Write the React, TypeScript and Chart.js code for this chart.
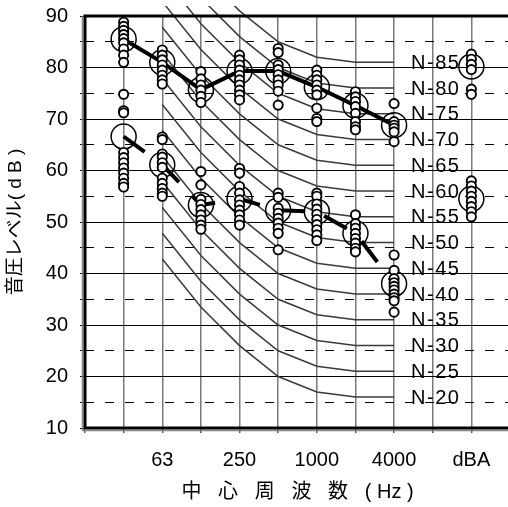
import React, { useEffect, useRef } from 'react';
import { Chart, registerables } from 'chart.js';

Chart.register(...registerables);

// x slots (category axis); blank slots carry no label
const categories = ['', '31.5', '63', '125', '250', '500', '1000', '2000', '4000', ' ', 'dBA', '  '];
const shownTickLabels = ['63', '250', '1000', '4000', 'dBA'];

// y axis
const yMin = 10;
const yMax = 90;
const yStep = 5;

// mean values (big circles + thick lines)
const upperMeans = [null, 85.5, 81.0, 75.7, 79.3, 79.3, 76.2, 72.6, 68.8, null, 80.2, null];
const lowerMeans = [null, 66.6, 61.1, 53.3, 54.5, 52.3, 52.0, 47.8, 38.0, null, 54.5, null];

// individual measurements (small circles)
const pts31 = [88.8, 88.0, 87.2, 86.4, 85.6, 84.8, 83.6, 82.4, 81.0, 74.8, 71.6, 71.2, 63.5, 62.5, 61.5, 60.5, 59.5, 58.5, 57.5, 56.8];
const pts63 = [83.4, 82.4, 81.5, 80.5, 79.5, 78.5, 77.6, 76.8, 66.5, 66.0, 63.2, 62.6, 61.5, 60.6, 58.5, 57.5, 56.5, 55.6, 55.0];
const pts125 = [79.2, 77.8, 76.6, 75.6, 74.4, 73.2, 59.8, 57.2, 54.4, 53.4, 52.4, 51.4, 50.4, 49.4, 48.6];
const pts250 = [82.4, 81.5, 80.5, 79.5, 78.5, 77.6, 76.6, 75.6, 74.7, 73.7, 60.4, 59.5, 56.9, 55.6, 54.3, 53.3, 52.3, 51.4, 50.4, 49.4];
const pts500 = [83.7, 82.9, 80.5, 79.6, 78.6, 77.6, 76.6, 75.4, 72.7, 55.6, 54.8, 52.7, 51.7, 50.7, 49.8, 48.8, 47.8, 44.6];
const pts1000 = [79.5, 78.5, 77.6, 76.6, 75.6, 74.7, 72.1, 70.1, 69.5, 55.6, 55.0, 53.5, 52.5, 51.5, 50.5, 49.5, 48.5, 47.5, 46.4];
const pts2000 = [75.3, 74.3, 73.4, 72.4, 71.1, 69.5, 68.5, 67.9, 51.4, 49.7, 48.8, 47.8, 46.8, 45.9, 44.9, 44.2];
const pts4000 = [73.0, 69.5, 68.8, 68.2, 67.5, 65.6, 43.6, 40.6, 39.0, 38.2, 37.5, 36.8, 36.0, 35.3, 34.7, 32.5];
const ptsDBA = [82.6, 81.6, 80.6, 79.6, 75.8, 74.8, 58.0, 57.0, 56.0, 55.0, 54.0, 53.0, 52.0, 51.0];

// N curves, values at 63, 125, 250, 500, 1000, 2000, 4000 Hz
const nCurveBands = ['63', '125', '250', '500', '1000', '2000', '4000'];
const N20 = [42.8, 33.5, 26, 20, 17, 16, 16];
const N25 = [47.8, 38.5, 31, 25, 22, 21, 21];
const N30 = [52.8, 43.5, 36, 30, 27, 26, 26];
const N35 = [57.8, 48.5, 41, 35, 32, 31, 31];
const N40 = [62.8, 53.5, 46, 40, 37, 36, 36];
const N45 = [67.8, 58.5, 51, 45, 42, 41, 41];
const N50 = [72.8, 63.5, 56, 50, 47, 46, 46];
const N55 = [77.8, 68.5, 61, 55, 52, 51, 51];
const N60 = [82.8, 73.5, 66, 60, 57, 56, 56];
const N65 = [87.8, 78.5, 71, 65, 62, 61, 61];
const N70 = [92.8, 83.5, 76, 70, 67, 66, 66];
const N75 = [97.8, 88.5, 81, 75, 72, 71, 71];
const N80 = [102.8, 93.5, 86, 80, 77, 76, 76];
const N85 = [107.8, 98.5, 91, 85, 82, 81, 81];
const nCurveNames = ['N-20', 'N-25', 'N-30', 'N-35', 'N-40', 'N-45', 'N-50', 'N-55', 'N-60', 'N-65', 'N-70', 'N-75', 'N-80', 'N-85'];
const nCurveValues = [N20, N25, N30, N35, N40, N45, N50, N55, N60, N65, N70, N75, N80, N85];

const pointTable: [string, number[]][] = [
  ['31.5', pts31], ['63', pts63], ['125', pts125], ['250', pts250], ['500', pts500],
  ['1000', pts1000], ['2000', pts2000], ['4000', pts4000], ['dBA', ptsDBA],
];

const FONT = "'Liberation Sans', Arial, 'Noto Sans CJK JP', sans-serif";

const zeroPadding = (s: any) => {
  s.paddingLeft = 0;
  s.paddingRight = 0;
  s.paddingTop = 0;
  s.paddingBottom = 0;
};

const framePlugin = {
  id: 'frameAndLabels',
  beforeDatasetsDraw(chart: any) {
    const { ctx, scales } = chart;
    const x = scales.x;
    const y = scales.y;
    ctx.save();
    ctx.font = `20px ${FONT}`;
    ctx.fillStyle = '#000';
    ctx.textAlign = 'left';
    ctx.textBaseline = 'middle';
    try { (ctx as any).letterSpacing = '1.5px'; } catch (e) {}
    const lastBand = nCurveBands[nCurveBands.length - 1];
    const lx = x.getPixelForValue(categories.indexOf(lastBand)) + 17;
    nCurveNames.forEach((name, i) => {
      const vals = nCurveValues[i];
      ctx.fillText(name, lx, y.getPixelForValue(vals[vals.length - 1]) + 1);
    });
    ctx.restore();
  },
  afterDraw(chart: any) {
    const { ctx, chartArea } = chart;
    const { left, top, right, bottom } = chartArea;
    ctx.save();
    ctx.strokeStyle = '#888';
    ctx.lineWidth = 1.5;
    ctx.beginPath();
    ctx.moveTo(left - 2.5, top);
    ctx.lineTo(left - 2.5, bottom + 2.5);
    ctx.lineTo(right, bottom + 2.5);
    ctx.stroke();
    ctx.strokeStyle = '#000';
    ctx.lineWidth = 3;
    ctx.beginPath();
    ctx.moveTo(right, top);
    ctx.lineTo(left, top);
    ctx.lineTo(left, bottom);
    ctx.lineTo(right, bottom);
    ctx.stroke();
    ctx.restore();
  },
};

export default function App() {
  const ref = useRef<HTMLCanvasElement>(null);
  useEffect(() => {
    const canvas = ref.current;
    if (!canvas) return;

    const scatterData: { x: string; y: number }[] = [];
    pointTable.forEach(([cat, vals]) => vals.forEach((v) => scatterData.push({ x: cat, y: v })));

    const nDatasets = nCurveValues.map((vals, i) => ({
      type: 'line' as const,
      label: nCurveNames[i],
      data: vals.map((v, j) => ({ x: nCurveBands[j], y: v })),
      borderColor: '#3a3a3a',
      borderWidth: 1.5,
      pointRadius: 0,
      tension: 0,
      order: 3,
      clip: { left: 0, top: 10, right: 0, bottom: 0 },
    }));

    const chart = new Chart(canvas, {
      type: 'line',
      data: {
        labels: categories,
        datasets: [
          {
            label: 'points',
            data: scatterData as any,
            showLine: false,
            pointRadius: 4.6,
            pointBorderWidth: 1.9,
            pointBackgroundColor: '#fff',
            pointBorderColor: '#000',
            order: 0,
          },
          {
            label: 'upper',
            data: upperMeans as any,
            borderColor: '#000',
            borderWidth: 4,
            pointRadius: 12.5,
            pointBorderWidth: 1.5,
            pointBackgroundColor: 'rgba(0,0,0,0)',
            pointBorderColor: '#000',
            spanGaps: false,
            tension: 0,
            order: 1,
          },
          {
            label: 'lower',
            data: lowerMeans as any,
            borderColor: '#000',
            borderWidth: 4,
            borderDash: [26, 20],
            pointRadius: 12.5,
            pointBorderWidth: 1.5,
            pointBackgroundColor: 'rgba(0,0,0,0)',
            pointBorderColor: '#000',
            spanGaps: false,
            tension: 0,
            order: 1,
          },
          ...nDatasets,
        ] as any,
      },
      options: {
        responsive: false,
        animation: false,
        events: [],
        layout: { autoPadding: false, padding: { top: 16, left: 0, right: 10, bottom: 0 } },
        plugins: { legend: { display: false }, tooltip: { enabled: false } },
        scales: {
          x: {
            type: 'category',
            offset: false,
            afterFit: (s: any) => { s.height = 79; zeroPadding(s); },
            grid: {
              color: (c: any) => (c.index === 0 ? 'rgba(0,0,0,0)' : '#7a7a7a'),
              lineWidth: 1.5,
              tickLength: 5,
              tickColor: '#555',
              offset: false,
            },
            border: { display: false },
            ticks: {
              autoSkip: false,
              maxRotation: 0,
              padding: 15,
              color: '#000',
              font: { family: FONT, size: 20 },
              callback: (value: any) => {
                const l = categories[value as number];
                return shownTickLabels.includes(l) ? l : '';
              },
            },
            title: {
              display: true,
              text: '中   心   周   波   数   ( Hz )',
              color: '#000',
              font: { family: FONT, size: 20 },
              padding: { top: 0, bottom: 3 },
            },
          },
          y: {
            type: 'linear',
            min: yMin,
            max: yMax,
            afterFit: (s: any) => { s.width = 85; zeroPadding(s); },
            grid: {
              color: '#000',
              lineWidth: 1,
              tickLength: 5,
              tickColor: '#000',
            },
            border: {
              display: false,
              dash: (c: any) => (c.tick && c.tick.value % 10 !== 0 ? [9, 11] : []),
            },
            ticks: {
              stepSize: yStep,
              autoSkip: false,
              padding: 12,
              color: '#000',
              font: { family: FONT, size: 20 },
              callback: (v: any) => (Number(v) % 10 === 0 ? String(v) : ''),
            },
            title: {
              display: true,
              text: '音圧レベル( d B )',
              color: '#000',
              font: { family: FONT, size: 19 },
              padding: { top: 4, bottom: 0 },
            },
          },
        },
      } as any,
      plugins: [framePlugin],
    });
    return () => chart.destroy();
  }, []);

  return (
    <div style={{ position: 'fixed', left: 0, top: 0, width: 508, height: 507, overflow: 'hidden' }}>
      <canvas ref={ref} width={520} height={507} style={{ display: 'block', width: 520, height: 507 }} />
    </div>
  );
}
